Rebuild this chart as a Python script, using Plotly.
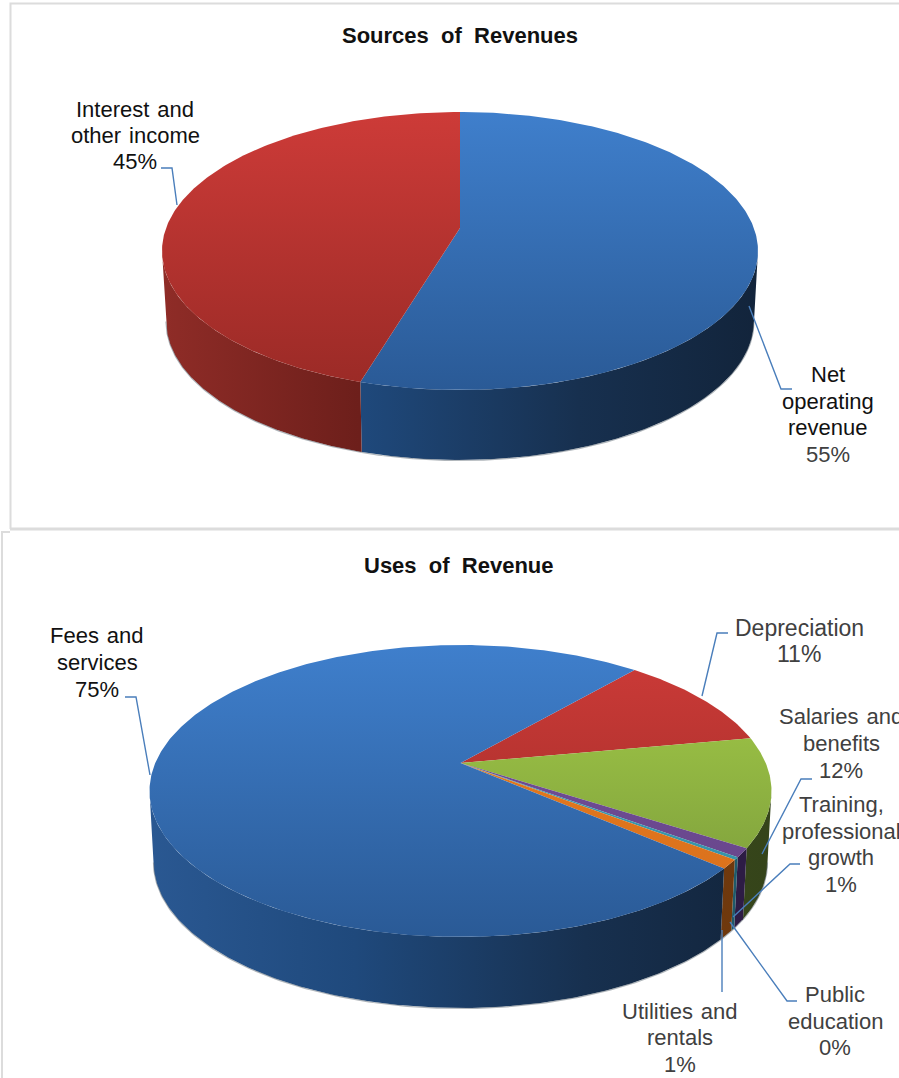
import numpy as np
import plotly.graph_objects as go

# ---- data ----
rev_names = ["Net operating revenue", "Interest and other income"]
rev_values = [55, 45]
use_names = ["Depreciation", "Salaries and benefits", "Training, professional growth",
             "Public education", "Utilities and rentals", "Fees and services"]
use_values = [10.6, 12.1, 1.0, 0.3, 1.0, 75.0]

# ---- styles ----
BLUE = ("#3f7fcc", "#2a5a96", [[0, "#2a5892"], [.33, "#1f497c"], [.7, "#17304f"], [1, "#12243b"]])
RED = ("#cd3b38", "#9a2a26", [[0, "#8f2c27"], [.33, "#6d1f1b"], [1, "#4a1410"]])
GREEN = ("#a6ce48", "#76963a", [[0, "#46571f"], [1, "#35441a"]])
PURPLE = ("#74509c", "#664488", [[0, "#2d1c45"], [1, "#2d1c45"]])
TEAL = ("#3da0b8", "#3590a6", [[0, "#1f5a6a"], [1, "#1f5a6a"]])
ORANGE = ("#e87d1f", "#d86f1c", [[0, "#7a3f0f"], [1, "#6e380d"]])
LEADER = "#4a7ebb"
BLACK = "#111111"
GRAY = "#404040"

fig = go.Figure()


def warp(theta, m):
    """Angle round the drawn ellipse for a true pie angle, under the tilt's perspective."""
    raw = 2 * np.arctan2(m * np.sin(theta / 2), np.cos(theta / 2))
    return theta + (raw - theta + np.pi) % (2 * np.pi) - np.pi


def rim(cx, cy, rx, ry, theta):
    return cx + rx * np.sin(theta), cy - ry * np.cos(theta)


def pie3d(values, colors, start_deg, cx, cy, rx, ry, apex_y, depth, m):
    top, bottom = cy - ry, cy + ry
    left, right = cx - rx, cx + rx
    total = sum(values)
    a0 = np.radians(start_deg)
    arcs = []
    for v in values:
        a1 = a0 + 2 * np.pi * v / total
        arcs.append((float(warp(a0, m)), float(warp(a1, m))))
        a0 = a1
    # side walls (front half only)
    for (a, b), col in zip(arcs, colors):
        for shift in (0, 2 * np.pi):
            lo, hi = max(a, np.pi / 2 + shift), min(b, 3 * np.pi / 2 + shift)
            if hi <= lo:
                continue
            th = np.linspace(lo, hi, 160)
            xt, yt = rim(cx, cy, rx, ry, th)
            xb, yb = rim(cx, cy + depth, rx - 4, ry, th)
            fig.add_trace(go.Scatter(
                x=np.r_[xt, xb[::-1]], y=np.r_[yt, yb[::-1]],
                mode="lines", fill="toself", line=dict(width=0), hoverinfo="skip",
                fillgradient=dict(type="horizontal", colorscale=col[2], start=left, stop=right)))
            fig.add_trace(go.Scatter(x=xb, y=yb + 0.5, mode="lines", hoverinfo="skip",
                                     line=dict(width=1.2, color="rgba(110,120,130,0.55)")))
    # top surface
    for (a, b), col in zip(arcs, colors):
        th = np.linspace(a, b, max(int((b - a) * 90), 8))
        x, y = rim(cx, cy, rx, ry, th)
        fig.add_trace(go.Scatter(
            x=np.r_[cx, x, cx], y=np.r_[apex_y, y, apex_y],
            mode="lines", fill="toself", line=dict(width=0), hoverinfo="skip",
            fillgradient=dict(type="vertical", colorscale=[[0, col[0]], [1, col[1]]],
                              start=top, stop=bottom)))


pie3d(rev_values, [BLUE, RED], 0, 460, 251, 298, 139, 228, 70, 0.92)
pie3d(use_values, [RED, GREEN, PURPLE, TEAL, ORANGE, BLUE], 39.6, 460.5, 791, 311, 146, 763, 71, 0.85)


def pct(v, vals):
    return f"{round(100 * v / sum(vals))}%"


annotations = []


def label(x, ys, lines, colors, size=22, bold=False):
    for y, t, c in zip(ys, lines, colors):
        annotations.append(dict(x=x, y=y, xref="x", yref="y", text=f"<b>{t}</b>" if bold else t,
                                showarrow=False, xanchor="center", yanchor="middle",
                                font=dict(family="Liberation Sans", size=size, color=c)))


S = "\u00a0\u00a0"
W = "\u00a0\u200a"
label(460, [35], ["Sources" + S + "of" + S + "Revenues"], [BLACK], 22, True)
label(459, [565], ["Uses" + S + "of" + S + "Revenue"], [BLACK], 22, True)
label(135, [109, 135, 161], ["Interest" + W + "and", "other" + W + "income", pct(rev_values[1], rev_values)],
      [BLACK, BLACK, BLACK])
label(828, [374, 401, 427, 454], ["Net", "operating", "revenue", pct(rev_values[0], rev_values)],
      [BLACK, BLACK, BLACK, GRAY])
label(97, [635, 662, 689], ["Fees" + W + "and", "services", pct(use_values[5], use_values)], [BLACK, BLACK, BLACK])
label(799, [628, 654], ["Depreciation", pct(use_values[0], use_values)], [GRAY, GRAY], 23)
label(841, [716, 743, 770], ["Salaries" + W + "and", "benefits", pct(use_values[1], use_values)], [GRAY] * 3)
label(841, [804, 831, 857, 884], ["Training,", "professional", "growth", pct(use_values[2], use_values)], [GRAY] * 4)
label(835, [994, 1021, 1047], ["Public", "education", pct(use_values[3], use_values)], [GRAY] * 3)
label(680, [1011, 1037, 1064], ["Utilities" + W + "and", "rentals", pct(use_values[4], use_values)], [GRAY] * 3)

leaders = [
    [(161, 168), (172, 168), (177, 205)],
    [(749, 306), (781, 389), (792, 389)],
    [(125, 697), (136, 697), (150, 775)],
    [(728, 633), (717, 633), (702, 696)],
    [(812, 779), (801, 779), (762, 854)],
    [(800, 864), (790, 864), (733, 917)],
    [(797, 1001), (787, 1001), (730, 922)],
    [(722, 992), (722, 930)],
]
shapes = []
for pts in leaders:
    path = "M " + " L ".join(f"{a},{b}" for a, b in pts)
    shapes.append(dict(type="path", path=path, xref="x", yref="y",
                       line=dict(color=LEADER, width=1.4)))
for path, w in [("M 10.5,529 L 10.5,3.5 L 899,3.5", 2), ("M 10,529 L 899,529", 3),
                ("M 2,1078 L 2,532 L 10,532", 2)]:
    shapes.append(dict(type="path", path=path, xref="x", yref="y",
                       line=dict(color="#dcdcdc", width=w), layer="below"))

fig.update_layout(
    width=899, height=1078, margin=dict(l=0, r=0, t=0, b=0),
    paper_bgcolor="white", plot_bgcolor="white", showlegend=False,
    xaxis=dict(range=[0, 899], visible=False, fixedrange=True),
    yaxis=dict(range=[1078, 0], visible=False, fixedrange=True),
    annotations=annotations, shapes=shapes,
)
fig.write_html("out.html", config=dict(displayModeBar=False),
               post_script="document.body.style.margin='0';document.body.style.overflow='hidden';")
